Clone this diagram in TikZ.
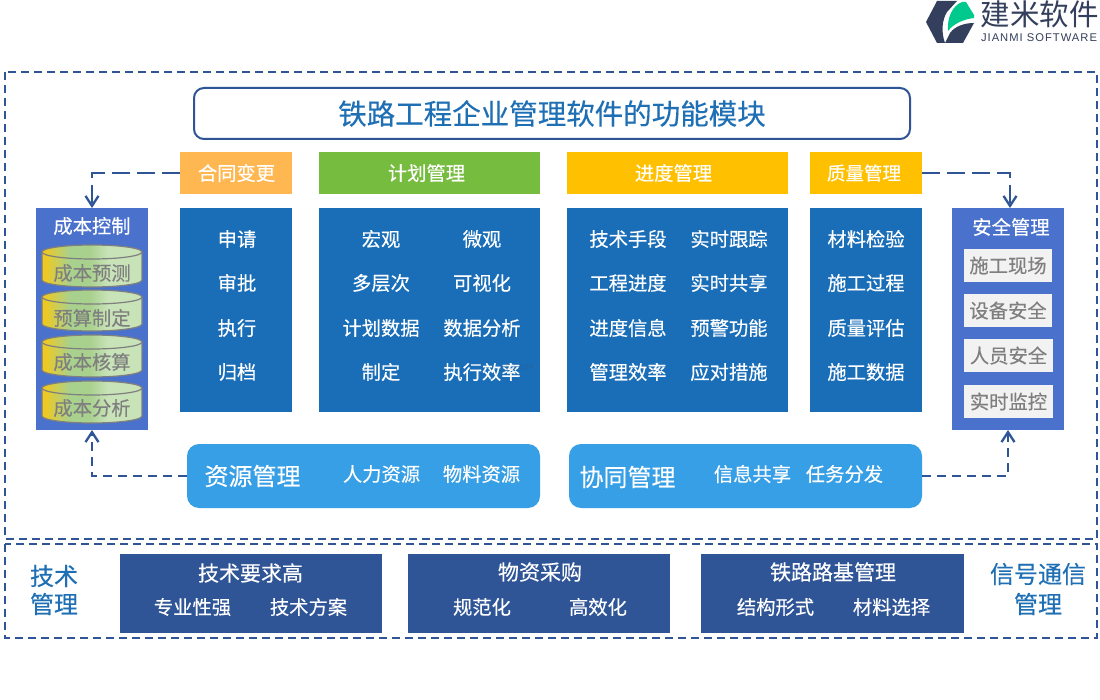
\documentclass[tikz,border=0pt]{standalone}
\usepackage{fontspec}
\usetikzlibrary{arrows.meta,calc}
\newfontfamily\cjk[FakeBold=0.3]{Noto Sans CJK SC}
\newfontfamily\cjklight{Noto Sans CJK SC}
\newfontfamily\logolat[LetterSpace=9]{Liberation Sans}
\definecolor{navy}{HTML}{2F5597}
\definecolor{cardblue}{HTML}{1A6EB8}
\definecolor{sideblue}{HTML}{4A72CC}
\definecolor{skyblue}{HTML}{379FE5}
\definecolor{titleblue}{HTML}{1F6FB5}
\definecolor{greytxt}{HTML}{7F7F7F}
\definecolor{logodark}{HTML}{333F5C}
\definecolor{logogreen}{HTML}{00C98D}
\definecolor{headorange}{HTML}{FFB851}
\definecolor{headgreen}{HTML}{76BC3F}
\definecolor{headgold}{HTML}{FFC000}
\definecolor{greyfill}{HTML}{F2F2F2}
\definecolor{cylA}{HTML}{EFC91E}
\definecolor{cylB}{HTML}{A9D18E}
\definecolor{cylC}{HTML}{C8E3B8}
% the path's box maps onto 25bp..75bp of the shading
\pgfdeclarehorizontalshading{cylshade}{100bp}{
  color(0bp)=(cylA); color(26bp)=(cylA); color(39bp)=(cylB); color(49bp)=(cylB); color(58bp)=(cylC); color(100bp)=(cylC)}
\newcommand{\fs}[1]{\fontsize{#1pt}{#1pt}\selectfont}
% #1 top y, #2 bottom y of one drum
\newcommand{\drumshape}[2]{%
  \path[shade,shading=cylshade,draw=greytxt,line width=1.2pt] (42,#1+7) -- (42,#2-7)
     .. controls (42,#2-3.13) and (64.4,#2) .. (92,#2)
     .. controls (119.6,#2) and (142,#2-3.13) .. (142,#2-7) -- (142,#1+7) -- cycle;
  \path[shade,shading=cylshade,draw=greytxt,line width=1.2pt] (92,#1+7) ellipse[x radius=50,y radius=7];}
\tikzset{
  x=1pt,y=-1pt,
  every node/.style={font=\cjk,inner sep=0pt,outer sep=0pt},
  dashframe/.style={draw=navy,line width=2pt,dash pattern=on 8pt off 5pt},
  titlebox/.style={draw=navy,line width=2pt,rounded corners=10pt,fill=white},
  headbox/.style={text=white,font=\cjk\fs{19.3}},
  cardbox/.style={fill=cardblue},
  sidebox/.style={fill=sideblue},
  cardtxt/.style={text=white,font=\cjk\fs{19.3}},
  greybox/.style={fill=greyfill,text=greytxt,font=\cjk\fs{19.3}},
  drumtxt/.style={text=greytxt,font=\cjk\fs{19.3}},
  pillbox/.style={fill=skyblue,rounded corners=12pt},
  pilltitle/.style={text=white,font=\cjk\fs{24}},
  navybox/.style={fill=navy},
  sidelabel/.style={text=titleblue,font=\cjk\fs{24}},
  linkline/.style={draw=navy,line width=2.3pt,dash pattern=on 18pt off 7pt,-{Straight Barb[length=10pt,width=13pt,line width=2.3pt]}},
}
\begin{document}
\begin{tikzpicture}
\useasboundingbox (0,0) rectangle (1100,700);
\fill[white] (0,0) rectangle (1100,700);
% logo
\fill[logodark] (926,22) -- (937,1) -- (957,1) -- (947,12) .. controls (942,20) and (941,32) .. (945,43) -- (937,43) -- cycle;
\fill[logogreen] (948,31) .. controls (947,18) and (952,6) .. (962,2) -- (966,2) -- (974,15) -- (974,18) .. controls (965,19) and (954,23) .. (948,31) -- cycle;
\fill[logodark] (945,43) -- (950,33) .. controls (955,26) and (965,23) .. (974,23) -- (963,43) -- cycle;
\node[text=logodark,font=\cjklight\fs{29.5}] (logocn) at (1039.5,14) {建米软件};
\node[text=logodark,font=\logolat\fs{11.2}] (logoen) at (1039,38) {JIANMI SOFTWARE};
% frames
\draw[dashframe] (5,72) rectangle (1097,539);
\draw[dashframe] (5,543.5) rectangle (1097,637.5);
% title
\node[titlebox,minimum width=716pt,minimum height=51pt,text=titleblue,font=\cjk\fs{28.5}] (title) at (552,113.5) {铁路工程企业管理软件的功能模块};
% headers
\node[fill=headorange,minimum width=112pt,minimum height=42pt] (hHetong) at (236,173) {};
\node[fill=headgreen,minimum width=221pt,minimum height=42pt] (hPlan) at (429.5,173) {};
\node[fill=headgold,minimum width=221pt,minimum height=42pt] (hProg) at (677.5,173) {};
\node[fill=headgold,minimum width=112pt,minimum height=42pt] (hQual) at (866,173) {};
\node[headbox] (hHetongT) at (236.5,173) {合同变更};
\node[headbox] (hPlanT) at (426.5,173) {计划管理};
\node[headbox] (hProgT) at (673.5,173) {进度管理};
\node[headbox,font=\cjk\fs{18.5}] (hQualT) at (864,173) {质量管理};
% cards
\node[cardbox,minimum width=112pt,minimum height=204pt] (cHetong) at (236,310) {};
\node[cardbox,minimum width=221pt,minimum height=204pt] (cPlan) at (429.5,310) {};
\node[cardbox,minimum width=221pt,minimum height=204pt] (cProg) at (677.5,310) {};
\node[cardbox,minimum width=112pt,minimum height=204pt] (cQual) at (866,310) {};
\node[cardtxt] (t1) at (237,239) {申请};
\node[cardtxt] (t2) at (237,283) {审批};
\node[cardtxt] (t3) at (237,328) {执行};
\node[cardtxt] (t4) at (237,372) {归档};
\node[cardtxt] (p1) at (381,239) {宏观};
\node[cardtxt] (p2) at (482,239) {微观};
\node[cardtxt] (p3) at (381,283) {多层次};
\node[cardtxt] (p4) at (482,283) {可视化};
\node[cardtxt] (p5) at (381,328) {计划数据};
\node[cardtxt] (p6) at (482,328) {数据分析};
\node[cardtxt] (p7) at (381,372) {制定};
\node[cardtxt] (p8) at (482,372) {执行效率};
\node[opacity=.18,text=logodark,font=\cjklight\fs{8}] (wm) at (518,367) {建米软件};
\node[cardtxt] (g1) at (628,239) {技术手段};
\node[cardtxt] (g2) at (729,239) {实时跟踪};
\node[cardtxt] (g3) at (628,283) {工程进度};
\node[cardtxt] (g4) at (729,283) {实时共享};
\node[cardtxt] (g5) at (628,328) {进度信息};
\node[cardtxt] (g6) at (729,328) {预警功能};
\node[cardtxt] (g7) at (628,372) {管理效率};
\node[cardtxt] (g8) at (729,372) {应对措施};
\node[cardtxt] (q1) at (866,239) {材料检验};
\node[cardtxt] (q2) at (866,283) {施工过程};
\node[cardtxt] (q3) at (866,328) {质量评估};
\node[cardtxt] (q4) at (866,372) {施工数据};
% cost column
\node[sidebox,minimum width=112pt,minimum height=222pt] (cost) at (92,319) {};
\node[cardtxt] (costT) at (92,226) {成本控制};
\drumshape{245}{287}\drumshape{290}{331}\drumshape{335}{377}\drumshape{381}{423}
\node[drumtxt] (d1) at (92,273) {成本预测};
\node[drumtxt] (d2) at (92,318) {预算制定};
\node[drumtxt] (d3) at (92,362) {成本核算};
\node[drumtxt] (d4) at (92,408) {成本分析};
% safety column
\node[sidebox,minimum width=112pt,minimum height=222pt] (safe) at (1008,319) {};
\node[cardtxt] (safeT) at (1011,227) {安全管理};
\node[greybox,minimum width=88pt,minimum height=33pt] (s1) at (1008,265.5) {施工现场};
\node[greybox,minimum width=88pt,minimum height=33pt] (s2) at (1008,310.5) {设备安全};
\node[greybox,minimum width=89pt,minimum height=33pt] (s3) at (1008.5,355.5) {人员安全};
\node[greybox,minimum width=89pt,minimum height=33pt] (s4) at (1008.5,401.5) {实时监控};
% pills
\node[pillbox,minimum width=353pt,minimum height=64pt] (res) at (363.5,476) {};
\node[pillbox,minimum width=353pt,minimum height=64pt] (col) at (745.5,476) {};
\node[pilltitle] (resT) at (252.5,476) {资源管理};
\node[cardtxt] (r1) at (381.5,474) {人力资源};
\node[cardtxt] (r2) at (481.5,474) {物料资源};
\node[pilltitle] (colT) at (627.5,477) {协同管理};
\node[cardtxt] (c1) at (752.5,474) {信息共享};
\node[cardtxt] (c2) at (844.5,474) {任务分发};
% bottom
\node[sidelabel] (l1) at (54,576) {技术};
\node[sidelabel] (l2) at (54,604) {管理};
\node[sidelabel] (l3) at (1038,574) {信号通信};
\node[sidelabel] (l4) at (1038,604) {管理};
\node[navybox,minimum width=262pt,minimum height=79pt] (b1) at (251,593.5) {};
\node[navybox,minimum width=262pt,minimum height=79pt] (b2) at (539,593.5) {};
\node[navybox,minimum width=263pt,minimum height=79pt] (b3) at (832.5,593.5) {};
\node[text=white,font=\cjk\fs{21}] (b1t) at (250.5,573) {技术要求高};
\node[cardtxt] (b1a) at (192.5,607) {专业性强};
\node[cardtxt] (b1b) at (308.5,607) {技术方案};
\node[text=white,font=\cjk\fs{21}] (b2t) at (540,572) {物资采购};
\node[cardtxt] (b2a) at (482,607) {规范化};
\node[cardtxt] (b2b) at (598,607) {高效化};
\node[text=white,font=\cjk\fs{21}] (b3t) at (833,572) {铁路路基管理};
\node[cardtxt] (b3a) at (775.5,607) {结构形式};
\node[cardtxt] (b3b) at (891.5,607) {材料选择};
% connectors
\draw[linkline] (hHetong.west) -| (cost.north);
\draw[linkline] (hQual.east) -| ([xshift=2pt]safe.north);
\draw[linkline,dash pattern=on 9pt off 6pt] (res.west) -| (cost.south);
\draw[linkline,dash pattern=on 9pt off 6pt] (col.east) -| (safe.south);
\end{tikzpicture}
\end{document}
